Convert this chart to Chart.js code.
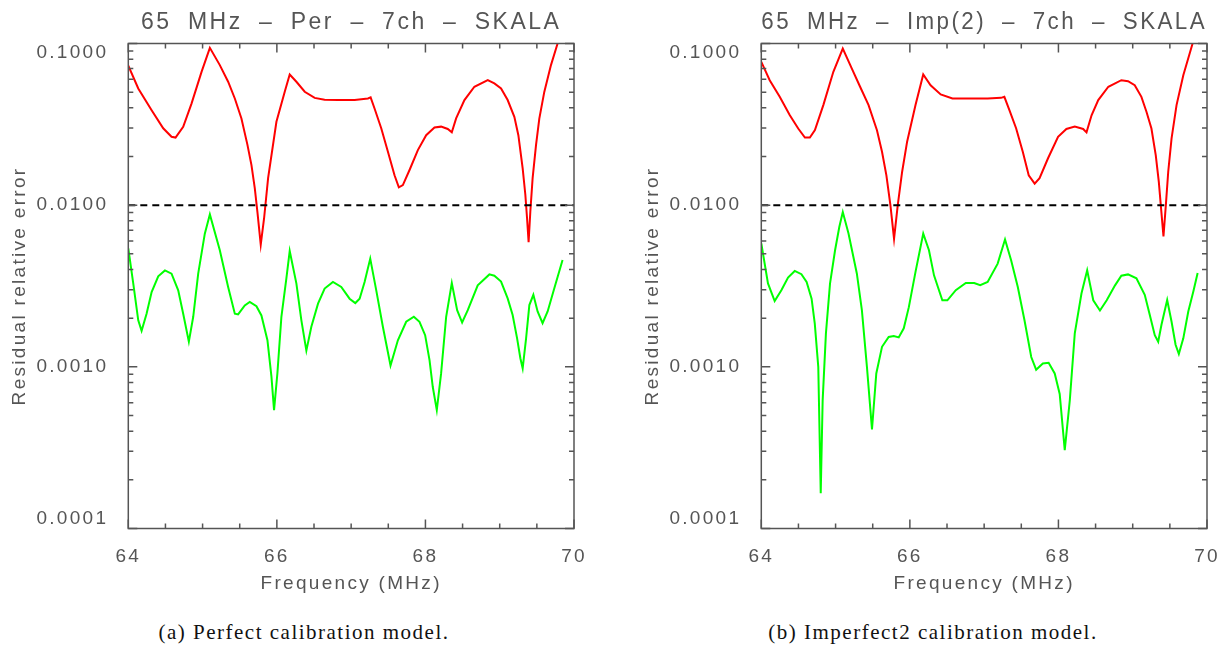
<!DOCTYPE html>
<html>
<head>
<meta charset="utf-8">
<title>Residual relative error - 65 MHz</title>
<script src="https://cdn.jsdelivr.net/npm/chart.js@4.4.1/dist/chart.umd.min.js"></script>
<style>
    html, body { margin: 0; padding: 0; background: #fff; overflow: hidden; }
    #page { position: relative; width: 1231px; height: 652px; }
    canvas { position: absolute; top: 0; }
    #chartPer { left: 0; }
    #chartImp { left: 633px; }
    .caption {
        position: absolute;
        top: 622px;
        transform: translateX(-50%);
        white-space: nowrap;
        font-family: "Liberation Serif", "DejaVu Serif", serif;
        font-size: 21px;
        line-height: 20px;
        letter-spacing: 1.5px;
        color: #111;
    }
</style>
</head>
<body>
<div id="page">
    <canvas id="chartPer" width="598" height="600"></canvas>
    <canvas id="chartImp" width="598" height="600"></canvas>
    <div class="caption" style="left:304px">(a) Perfect calibration model.</div>
    <div class="caption" style="left:933px">(b) Imperfect2 calibration model.</div>
</div>

<script>
// --- data (frequency in MHz, residual relative error) ---

// (a) perfect calibration model
const perRedFreq = [64.0, 64.134, 64.314, 64.47, 64.582, 64.636, 64.739, 64.851, 64.986, 65.098,
    65.232, 65.344, 65.434, 65.523, 65.604, 65.658, 65.703, 65.738, 65.783, 65.828,
    65.882, 65.994, 66.106, 66.173, 66.263, 66.375, 66.509, 66.643, 66.823, 67.047,
    67.226, 67.262, 67.315, 67.405, 67.495, 67.584, 67.642, 67.696, 67.786, 67.898,
    68.01, 68.122, 68.211, 68.301, 68.355, 68.413, 68.525, 68.659, 68.839, 68.928,
    69.018, 69.107, 69.197, 69.251, 69.309, 69.345, 69.368, 69.389, 69.412, 69.443,
    69.489, 69.533, 69.6, 69.69, 69.779, 69.82];
const perRedErr = [0.073, 0.0527, 0.0387, 0.0299, 0.0265, 0.0262, 0.0305, 0.0425, 0.0668, 0.094,
    0.0735, 0.058, 0.0457, 0.0344, 0.0236, 0.0177, 0.0127, 0.0091, 0.0057, 0.0083,
    0.0147, 0.0328, 0.0503, 0.0643, 0.058, 0.0503, 0.0461, 0.0449, 0.0447, 0.0447,
    0.0457, 0.0464, 0.0396, 0.0299, 0.0214, 0.0153, 0.0129, 0.0133, 0.0165, 0.0219,
    0.0271, 0.0302, 0.0306, 0.0296, 0.0282, 0.0344, 0.0447, 0.054, 0.0593, 0.0566,
    0.0527, 0.0447, 0.0352, 0.0271, 0.0169, 0.0116, 0.0083, 0.0059, 0.0091, 0.0147,
    0.0236, 0.0343, 0.0502, 0.0735, 0.1, 0.115];

const perGreenFreq = [64.0, 64.067, 64.134, 64.179, 64.246, 64.314, 64.403, 64.493, 64.582, 64.672,
    64.739, 64.815, 64.874, 64.941, 65.03, 65.098, 65.232, 65.344, 65.434, 65.478,
    65.568, 65.635, 65.725, 65.792, 65.873, 65.927, 65.962, 66.007, 66.061, 66.128,
    66.173, 66.263, 66.33, 66.397, 66.464, 66.554, 66.643, 66.755, 66.867, 66.979,
    67.056, 67.114, 67.181, 67.257, 67.338, 67.427, 67.53, 67.629, 67.741, 67.844,
    67.92, 67.996, 68.055, 68.099, 68.153, 68.211, 68.279, 68.355, 68.427, 68.494,
    68.57, 68.704, 68.861, 68.928, 69.018, 69.107, 69.174, 69.234, 69.278, 69.309,
    69.355, 69.399, 69.453, 69.51, 69.577, 69.645, 69.735, 69.846];
const perGreenErr = [0.0054, 0.00327, 0.00194, 0.00167, 0.00213, 0.0029, 0.00363, 0.00395, 0.00377, 0.00297,
    0.00213, 0.00143, 0.00204, 0.00377, 0.00666, 0.00877, 0.00526, 0.00312, 0.00213, 0.00211,
    0.0024, 0.00252, 0.00237, 0.00208, 0.00146, 0.00087, 0.00054, 0.00091, 0.00204, 0.00352,
    0.00521, 0.00327, 0.00194, 0.00126, 0.00177, 0.00246, 0.00305, 0.00335, 0.00312, 0.00264,
    0.00248, 0.00264, 0.00335, 0.00467, 0.00297, 0.00177, 0.00102, 0.00146, 0.0019, 0.00204,
    0.0019, 0.00157, 0.0011, 0.00075, 0.00054, 0.00091, 0.00204, 0.0033, 0.00224, 0.00188,
    0.00224, 0.00319, 0.00373, 0.00366, 0.00337, 0.00265, 0.00209, 0.0015, 0.00113, 0.00098,
    0.0015, 0.00241, 0.00279, 0.0022, 0.00186, 0.0022, 0.00306, 0.00458];

// (b) imperfect2 calibration model
const impRedFreq = [64.0, 64.113, 64.248, 64.384, 64.497, 64.587, 64.654, 64.722, 64.835, 64.97,
    65.097, 65.219, 65.33, 65.444, 65.557, 65.625, 65.684, 65.738, 65.787, 65.837,
    65.896, 65.963, 66.076, 66.18, 66.279, 66.415, 66.573, 66.776, 67.047, 67.227,
    67.272, 67.34, 67.43, 67.52, 67.6, 67.68, 67.746, 67.86, 67.995, 68.107,
    68.22, 68.333, 68.378, 68.446, 68.536, 68.672, 68.847, 68.937, 69.027, 69.117,
    69.185, 69.252, 69.31, 69.351, 69.378, 69.414, 69.446, 69.478, 69.523, 69.59,
    69.681, 69.806, 69.84];
const impRedErr = [0.077, 0.0593, 0.0468, 0.036, 0.0298, 0.0262, 0.0262, 0.0291, 0.0416, 0.0668,
    0.0931, 0.07, 0.054, 0.0416, 0.0291, 0.0214, 0.0153, 0.01, 0.0062, 0.01,
    0.0161, 0.0247, 0.0416, 0.0643, 0.0552, 0.0484, 0.0457, 0.0457, 0.0457, 0.0461,
    0.0468, 0.0387, 0.0299, 0.0214, 0.0153, 0.0136, 0.0147, 0.0195, 0.0265, 0.0296,
    0.0306, 0.0296, 0.0282, 0.036, 0.0447, 0.054, 0.0593, 0.0585, 0.0552, 0.0468,
    0.0378, 0.0298, 0.0204, 0.014, 0.01, 0.0064, 0.01, 0.0161, 0.0259, 0.0416,
    0.0637, 0.1, 0.112];

const impGreenFreq = [64.0, 64.09, 64.18, 64.27, 64.36, 64.45, 64.54, 64.61, 64.677, 64.72,
    64.767, 64.8, 64.826, 64.87, 64.925, 64.993, 65.05, 65.097, 65.174, 65.286,
    65.354, 65.422, 65.49, 65.548, 65.625, 65.715, 65.783, 65.85, 65.918, 65.986,
    66.076, 66.18, 66.257, 66.325, 66.437, 66.505, 66.618, 66.753, 66.866, 66.947,
    67.047, 67.182, 67.281, 67.363, 67.453, 67.543, 67.634, 67.7, 67.79, 67.868,
    67.95, 68.017, 68.085, 68.153, 68.22, 68.31, 68.387, 68.469, 68.559, 68.65,
    68.762, 68.847, 68.937, 69.05, 69.162, 69.23, 69.297, 69.343, 69.387, 69.464,
    69.523, 69.577, 69.621, 69.681, 69.748, 69.816, 69.874];
const impGreenErr = [0.0058, 0.00328, 0.00255, 0.00298, 0.00357, 0.00392, 0.00374, 0.00335, 0.00264, 0.00185,
    0.001, 0.000165, 0.00062, 0.00161, 0.00327, 0.00526, 0.00733, 0.00906, 0.00667, 0.00378,
    0.00224, 0.001, 0.00041, 0.00091, 0.00133, 0.00153, 0.00155, 0.00152, 0.00173, 0.00234,
    0.00387, 0.00667, 0.00526, 0.00368, 0.00258, 0.00258, 0.00298, 0.0033, 0.0033, 0.0032,
    0.00335, 0.00435, 0.00613, 0.00456, 0.00312, 0.00194, 0.00115, 0.00096, 0.00105, 0.00106,
    0.00091, 0.00068, 0.000305, 0.00062, 0.00161, 0.00284, 0.00395, 0.00258, 0.00223, 0.00258,
    0.00319, 0.00366, 0.00373, 0.00353, 0.00279, 0.00209, 0.00157, 0.00143, 0.00182, 0.00259,
    0.0019, 0.00137, 0.0012, 0.0015, 0.0022, 0.00292, 0.0038];

// 1% reference level (dashed line)
const thresholdFreq = [64, 70];
const thresholdErr = [0.01, 0.01];

const xTickValues = [64, 66, 68, 70];
const yTickValues = [0.0001, 0.001, 0.01, 0.1];

const TEXT_COLOR = '#555';
const AXIS_COLOR = '#555';
const FONT = '"Liberation Sans", Arial, sans-serif';
const LABEL_SPACING = '2.3px';
const TITLE_SPACING = '2.5px';
const TITLE_WORD_SPACING = '7.5px';

function pairs(xs, ys) {
    return xs.map((x, i) => ({ x: x, y: ys[i] }));
}

// IDL style frame: box plus inward ticks on all four sides
const idlFrame = {
    id: 'idlFrame',
    beforeUpdate(chart) {
        chart.ctx.letterSpacing = LABEL_SPACING;
        chart.ctx.wordSpacing = '0px';
    },
    beforeDraw(chart) {
        chart.ctx.letterSpacing = TITLE_SPACING;
        chart.ctx.wordSpacing = TITLE_WORD_SPACING;
    },
    beforeDatasetsDraw(chart) {
        chart.ctx.letterSpacing = LABEL_SPACING;
        chart.ctx.wordSpacing = '0px';
    },
    afterDatasetsDraw(chart) {
        const { ctx, chartArea: a } = chart;
        const x = chart.scales.x;
        const y = chart.scales.y;
        ctx.save();
        ctx.strokeStyle = AXIS_COLOR;
        ctx.lineWidth = 1.5;
        ctx.beginPath();
        for (let f = x.min; f <= x.max + 1e-9; f += 0.5) {
            const px = x.getPixelForValue(f);
            const len = Math.abs((f - x.min) % 2) < 1e-9 ? 9 : 5;
            ctx.moveTo(px, a.bottom);
            ctx.lineTo(px, a.bottom - len);
            ctx.moveTo(px, a.top);
            ctx.lineTo(px, a.top + len);
        }
        yTickValues.forEach((d, i) => {
            const py = y.getPixelForValue(d);
            ctx.moveTo(a.left, py);
            ctx.lineTo(a.left + 9, py);
            ctx.moveTo(a.right, py);
            ctx.lineTo(a.right - 9, py);
            if (i === yTickValues.length - 1) return;
            for (let k = 2; k <= 9; k++) {
                const pm = y.getPixelForValue(k * d);
                ctx.moveTo(a.left, pm);
                ctx.lineTo(a.left + 5, pm);
                ctx.moveTo(a.right, pm);
                ctx.lineTo(a.right - 5, pm);
            }
        });
        ctx.stroke();
        ctx.strokeRect(a.left, a.top, a.right - a.left, a.bottom - a.top);
        ctx.restore();
    }
};

function buildPanel(canvasId, title, redFreq, redErr, greenFreq, greenErr) {
    const ctx = document.getElementById(canvasId);
    return new Chart(ctx, {
        type: 'line',
        data: {
            datasets: [
                {
                    label: '1% level',
                    data: pairs(thresholdFreq, thresholdErr),
                    borderColor: '#000',
                    borderWidth: 2,
                    borderDash: [7, 5],
                    order: 0
                },
                {
                    label: 'Before calibration',
                    data: pairs(redFreq, redErr),
                    borderColor: '#ff0000',
                    borderWidth: 2,
                    order: 1
                },
                {
                    label: 'After calibration',
                    data: pairs(greenFreq, greenErr),
                    borderColor: '#00ff00',
                    borderWidth: 2,
                    order: 2
                }
            ]
        },
        options: {
            responsive: false,
            animation: false,
            devicePixelRatio: 1,
            layout: { padding: { left: 0, right: 24, top: 0, bottom: 0 }, autoPadding: false },
            elements: {
                point: { radius: 0 },
                line: { tension: 0, fill: false }
            },
            plugins: {
                legend: { display: false },
                tooltip: { enabled: false },
                title: {
                    display: true,
                    text: title,
                    fullSize: false,
                    color: TEXT_COLOR,
                    font: { family: FONT, size: 23, weight: 'normal', lineHeight: '30px' },
                    padding: { top: 8, bottom: 5.5 }
                }
            },
            scales: {
                x: {
                    type: 'linear',
                    min: 64,
                    max: 70,
                    grid: { display: false, z: 1 },
                    border: { display: false },
                    afterBuildTicks: (s) => { s.ticks = xTickValues.map((v) => ({ value: v })); },
                    afterFit: (s) => { s.height = 71.5; },
                    ticks: {
                        z: 1,
                        color: TEXT_COLOR,
                        font: { family: FONT, size: 19, lineHeight: 1 },
                        padding: 11,
                        maxRotation: 0,
                        autoSkip: false,
                        callback: (v) => String(v)
                    },
                    title: {
                        display: true,
                        text: 'Frequency (MHz)',
                        color: TEXT_COLOR,
                        font: { family: FONT, size: 19, lineHeight: '32px' },
                        padding: 0
                    }
                },
                y: {
                    type: 'logarithmic',
                    min: 0.0001,
                    max: 0.1,
                    grid: { display: false, z: 1 },
                    border: { display: false },
                    afterBuildTicks: (s) => { s.ticks = yTickValues.map((v) => ({ value: v })); },
                    afterFit: (s) => { s.width = 128.3; },
                    ticks: {
                        z: 1,
                        color: TEXT_COLOR,
                        font: { family: FONT, size: 19, lineHeight: 1 },
                        padding: 12,
                        autoSkip: false,
                        callback: (v) => {
                            const s = Number(v).toFixed(4);
                            // IDL keeps the end labels inside the axis range
                            if (v === yTickValues[yTickValues.length - 1]) return ['', s];
                            if (v === yTickValues[0]) return [s, ''];
                            return s;
                        }
                    },
                    title: {
                        display: true,
                        text: 'Residual relative error',
                        color: TEXT_COLOR,
                        font: { family: FONT, size: 19, lineHeight: '40px' },
                        padding: 0
                    }
                }
            }
        },
        plugins: [idlFrame]
    });
}

buildPanel('chartPer', '65 MHz \u2013 Per \u2013 7ch \u2013 SKALA', perRedFreq, perRedErr, perGreenFreq, perGreenErr);
buildPanel('chartImp', '65 MHz \u2013 Imp(2) \u2013 7ch \u2013 SKALA', impRedFreq, impRedErr, impGreenFreq, impGreenErr);
</script>
</body>
</html>
